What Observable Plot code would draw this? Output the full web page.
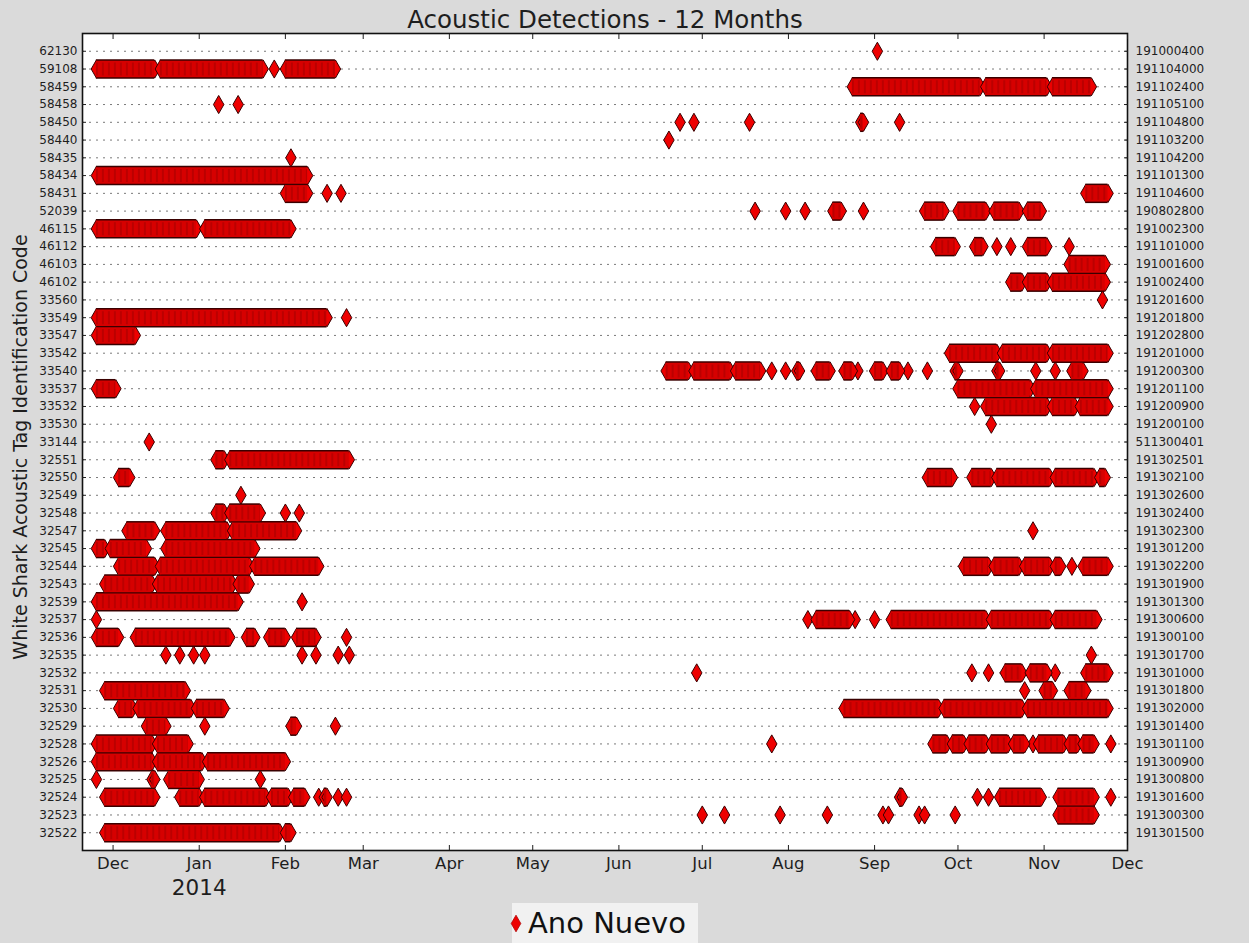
<!DOCTYPE html>
<html>
<head>
<meta charset="utf-8">
<script src="https://cdn.jsdelivr.net/npm/d3@7"></script>
<script src="https://cdn.jsdelivr.net/npm/@observablehq/plot@0.6"></script>
<style>
  html, body { margin: 0; padding: 0; background: #dadada; }
  #wrap { position: relative; width: 1249px; height: 943px; overflow: hidden; font-family: "DejaVu Sans", sans-serif; }
  #legend { position: absolute; left: 512px; top: 903px; }
</style>
</head>
<body>
<div id="wrap"></div>
<script>
// ---------- data ----------
const tagCodes = ["62130","59108","58459","58458","58450","58440","58435","58434","58431","52039","46115","46112","46103","46102","33560","33549","33547","33542","33540","33537","33532","33530","33144","32551","32550","32549","32548","32547","32545","32544","32543","32539","32537","32536","32535","32532","32531","32530","32529","32528","32526","32525","32524","32523","32522"];

const receiverCodes = ["191000400","191104000","191102400","191105100","191104800","191103200","191104200","191101300","191104600","190802800","191002300","191101000","191001600","191002400","191201600","191201800","191202800","191201000","191200300","191201100","191200900","191200100","511300401","191302501","191302100","191302600","191302400","191302300","191301200","191302200","191301900","191301300","191300600","191300100","191301700","191301000","191301800","191302000","191301400","191301100","191300900","191300800","191301600","191300300","191301500"];

const monthTicks = ["2013-12-01","2014-01-01","2014-02-01","2014-03-01","2014-04-01","2014-05-01","2014-06-01","2014-07-01","2014-08-01","2014-09-01","2014-10-01","2014-11-01","2014-12-01"];
const yearLabel = ["2014-01-01", "2014"];
const xDomain = ["2013-11-20", "2014-12-01"];

// detection runs: [tag, first day, last day]
const runs = [
  ["59108","2013-11-25","2013-12-16"],["59108","2013-12-18","2014-01-24"],["59108","2014-02-01","2014-02-19"],
  ["58459","2014-08-24","2014-10-09"],["58459","2014-10-11","2014-11-02"],["58459","2014-11-04","2014-11-18"],
  ["58450","2014-08-27","2014-08-28"],
  ["58434","2013-11-25","2014-02-09"],
  ["58431","2014-02-01","2014-02-09"],["58431","2014-11-16","2014-11-24"],
  ["52039","2014-08-17","2014-08-20"],["52039","2014-09-19","2014-09-26"],["52039","2014-10-01","2014-10-11"],["52039","2014-10-14","2014-10-23"],["52039","2014-10-26","2014-10-31"],
  ["46115","2013-11-25","2013-12-31"],["46115","2014-01-03","2014-02-03"],
  ["46112","2014-09-23","2014-09-30"],["46112","2014-10-07","2014-10-10"],["46112","2014-10-26","2014-11-02"],
  ["46103","2014-11-10","2014-11-23"],
  ["46102","2014-10-20","2014-10-24"],["46102","2014-10-26","2014-11-02"],["46102","2014-11-04","2014-11-23"],
  ["33549","2013-11-25","2014-02-16"],
  ["33547","2013-11-25","2013-12-09"],
  ["33542","2014-09-28","2014-10-15"],["33542","2014-10-17","2014-11-02"],["33542","2014-11-04","2014-11-24"],
  ["33540","2014-06-18","2014-06-26"],["33540","2014-06-28","2014-07-11"],["33540","2014-07-13","2014-07-22"],["33540","2014-08-04","2014-08-05"],["33540","2014-08-11","2014-08-16"],["33540","2014-08-21","2014-08-24"],["33540","2014-09-01","2014-09-04"],["33540","2014-09-07","2014-09-10"],["33540","2014-09-30","2014-10-01"],["33540","2014-10-15","2014-10-16"],["33540","2014-11-11","2014-11-15"],
  ["33537","2013-11-25","2013-12-02"],["33537","2014-10-01","2014-10-27"],["33537","2014-10-29","2014-11-24"],
  ["33532","2014-10-11","2014-11-02"],["33532","2014-11-04","2014-11-12"],["33532","2014-11-14","2014-11-24"],
  ["32551","2014-01-07","2014-01-10"],["32551","2014-01-12","2014-02-24"],
  ["32550","2013-12-03","2013-12-07"],["32550","2014-09-20","2014-09-29"],["32550","2014-10-06","2014-10-13"],["32550","2014-10-15","2014-11-03"],["32550","2014-11-05","2014-11-19"],["32550","2014-11-21","2014-11-23"],
  ["32548","2014-01-07","2014-01-10"],["32548","2014-01-12","2014-01-23"],
  ["32547","2013-12-06","2013-12-16"],["32547","2013-12-20","2014-01-11"],["32547","2014-01-13","2014-02-05"],
  ["32545","2013-11-25","2013-11-28"],["32545","2013-11-30","2013-12-13"],["32545","2013-12-20","2014-01-21"],
  ["32544","2013-12-03","2013-12-16"],["32544","2013-12-18","2014-01-19"],["32544","2014-01-21","2014-02-13"],["32544","2014-10-03","2014-10-12"],["32544","2014-10-14","2014-10-23"],["32544","2014-10-25","2014-11-03"],["32544","2014-11-05","2014-11-07"],["32544","2014-11-15","2014-11-24"],
  ["32543","2013-11-28","2013-12-15"],["32543","2013-12-17","2014-01-13"],["32543","2014-01-15","2014-01-19"],
  ["32539","2013-11-25","2014-01-15"],
  ["32537","2014-08-11","2014-08-23"],["32537","2014-09-07","2014-10-11"],["32537","2014-10-13","2014-11-03"],["32537","2014-11-05","2014-11-20"],
  ["32536","2013-11-25","2013-12-03"],["32536","2013-12-09","2014-01-12"],["32536","2014-01-18","2014-01-21"],["32536","2014-01-26","2014-02-01"],["32536","2014-02-05","2014-02-12"],
  ["32532","2014-10-18","2014-10-24"],["32532","2014-10-27","2014-11-02"],["32532","2014-11-16","2014-11-24"],
  ["32531","2013-11-28","2013-12-27"],["32531","2014-11-01","2014-11-04"],["32531","2014-11-10","2014-11-16"],
  ["32530","2013-12-03","2013-12-08"],["32530","2013-12-10","2013-12-29"],["32530","2013-12-31","2014-01-10"],["32530","2014-08-21","2014-09-24"],["32530","2014-09-26","2014-10-24"],["32530","2014-10-26","2014-11-24"],
  ["32529","2013-12-13","2013-12-20"],["32529","2014-02-03","2014-02-05"],
  ["32528","2013-11-25","2013-12-15"],["32528","2013-12-17","2013-12-28"],["32528","2014-09-22","2014-09-27"],["32528","2014-09-29","2014-10-03"],["32528","2014-10-05","2014-10-11"],["32528","2014-10-13","2014-10-19"],["32528","2014-10-21","2014-10-25"],["32528","2014-10-30","2014-11-08"],["32528","2014-11-10","2014-11-13"],["32528","2014-11-15","2014-11-19"],
  ["32526","2013-11-25","2013-12-15"],["32526","2013-12-17","2014-01-02"],["32526","2014-01-04","2014-02-01"],
  ["32525","2013-12-15","2013-12-16"],["32525","2013-12-21","2014-01-01"],
  ["32524","2013-11-28","2013-12-16"],["32524","2013-12-25","2014-01-01"],["32524","2014-01-03","2014-01-25"],["32524","2014-01-27","2014-02-02"],["32524","2014-02-04","2014-02-08"],["32524","2014-02-15","2014-02-16"],["32524","2014-09-10","2014-09-11"],["32524","2014-10-16","2014-10-31"],["32524","2014-11-06","2014-11-19"],
  ["32523","2014-11-06","2014-11-19"],
  ["32522","2013-11-28","2014-01-30"],["32522","2014-02-01","2014-02-03"]
];

// isolated detections: [tag, day]
const singles = [
  ["62130","2014-09-02"],
  ["59108","2014-01-28"],
  ["58458","2014-01-08"],["58458","2014-01-15"],
  ["58450","2014-06-23"],["58450","2014-06-28"],["58450","2014-07-18"],["58450","2014-09-10"],
  ["58440","2014-06-19"],
  ["58435","2014-02-03"],
  ["58431","2014-02-16"],["58431","2014-02-21"],
  ["52039","2014-07-20"],["52039","2014-07-31"],["52039","2014-08-07"],["52039","2014-08-28"],
  ["46112","2014-10-15"],["46112","2014-10-20"],["46112","2014-11-10"],
  ["33560","2014-11-22"],
  ["33549","2014-02-23"],
  ["33540","2014-07-26"],["33540","2014-07-31"],["33540","2014-08-26"],["33540","2014-09-13"],["33540","2014-09-20"],["33540","2014-10-29"],["33540","2014-11-05"],
  ["33532","2014-10-07"],
  ["33530","2014-10-13"],
  ["33144","2013-12-14"],
  ["32549","2014-01-16"],
  ["32548","2014-02-01"],["32548","2014-02-06"],
  ["32547","2014-10-28"],
  ["32544","2014-11-11"],
  ["32539","2014-02-07"],
  ["32537","2013-11-25"],["32537","2014-08-08"],["32537","2014-08-25"],["32537","2014-09-01"],
  ["32536","2014-02-23"],
  ["32535","2013-12-20"],["32535","2013-12-25"],["32535","2013-12-30"],["32535","2014-01-03"],["32535","2014-02-07"],["32535","2014-02-12"],["32535","2014-02-20"],["32535","2014-02-24"],["32535","2014-11-18"],
  ["32532","2014-06-29"],["32532","2014-10-06"],["32532","2014-10-12"],["32532","2014-11-05"],
  ["32531","2014-10-25"],
  ["32529","2014-01-03"],["32529","2014-02-19"],
  ["32528","2014-07-26"],["32528","2014-10-28"],["32528","2014-11-25"],
  ["32525","2013-11-25"],["32525","2014-01-23"],
  ["32524","2014-02-13"],["32524","2014-02-20"],["32524","2014-02-23"],["32524","2014-10-08"],["32524","2014-10-12"],["32524","2014-11-25"],
  ["32523","2014-07-01"],["32523","2014-07-09"],["32523","2014-07-29"],["32523","2014-08-15"],["32523","2014-09-04"],["32523","2014-09-06"],["32523","2014-09-17"],["32523","2014-09-19"],["32523","2014-09-30"]
];

const titleText = "Acoustic Detections - 12 Months";
const yTitle = "White Shark Acoustic Tag Identification Code";
const legendLabel = "Ano Nuevo";

// ---------- build ----------
const parse = d3.utcParse("%Y-%m-%d");
const runData = runs.map(([tag, s, e]) => ({tag, start: parse(s), end: parse(e)}));
const pointData = [
  ...singles.map(([tag, d]) => ({tag, date: parse(d)})),
  ...runData.flatMap(r => [{tag: r.tag, date: r.start}, {tag: r.tag, date: r.end}])
];
const ticks = monthTicks.map(parse);
const recv = new Map(tagCodes.map((t, i) => [t, receiverCodes[i]]));

const RED = "#ee0000", BAND = "#d60000", EDGE = "#3a0000", INK = "#1e1e1e";
const fmtMonth = d3.utcFormat("%b");

const chart = Plot.plot({
  width: 1249,
  height: 943,
  marginLeft: 82,
  marginRight: 122,
  marginTop: 33,
  marginBottom: 93,
  style: {background: "transparent", fontFamily: "DejaVu Sans, sans-serif", overflow: "visible", color: INK},
  x: {type: "utc", domain: xDomain.map(parse)},
  y: {type: "point", domain: tagCodes, padding: 1},
  marks: [
    Plot.frame({fill: "white"}),
    Plot.ruleY(tagCodes, {y: d => d, stroke: "#7a7a7a", strokeWidth: 1, strokeDasharray: "2,5"}),
    Plot.ruleY(runData, {y: "tag", x1: "start", x2: "end", stroke: EDGE, strokeWidth: 19.5}),
    Plot.dot(pointData, {x: "date", y: "tag", symbol: "diamond", r: 5.5, fill: RED, stroke: EDGE, strokeWidth: 1}),
    Plot.ruleY(runData, {y: "tag", x1: "start", x2: "end", stroke: BAND, strokeWidth: 16.5}),
    // mottled texture of overlapping markers
    Plot.ruleY(runData, {y: "tag", x1: "start", x2: "end", stroke: "#8a0000", strokeOpacity: 0.35, strokeWidth: 13, strokeDasharray: "2,4"}),
    Plot.frame({stroke: "#111", strokeWidth: 1.6}),
    Plot.axisX(ticks, {anchor: "bottom", tickSize: -5, tickPadding: 12, tickFormat: d => fmtMonth(d), fontSize: 16.5, label: null, fill: INK}),
    Plot.axisX(ticks, {anchor: "top", tickSize: -5, tickFormat: () => "", label: null}),
    Plot.axisY(tagCodes, {anchor: "left", tickSize: -4, tickPadding: 9, fontSize: 12, label: null, fill: INK}),
    Plot.axisY(tagCodes, {anchor: "right", tickSize: -4, tickPadding: 12, fontSize: 12, label: null, fill: INK, tickFormat: t => recv.get(t)}),
    Plot.text([yearLabel], {x: d => parse(d[0]), text: d => d[1], frameAnchor: "bottom", lineAnchor: "middle", dy: 38, fontSize: 21.5, fill: INK}),
    Plot.text([titleText], {text: d => d, frameAnchor: "top", lineAnchor: "middle", textAnchor: "middle", dy: -13, fontSize: 24.5, fill: INK}),
    Plot.text([yTitle], {text: d => d, frameAnchor: "left", lineAnchor: "middle", textAnchor: "middle", dx: -62, dy: 5, rotate: -90, fontSize: 19, fill: INK})
  ]
});
document.getElementById("wrap").appendChild(chart);

// legend
const legend = d3.select("#wrap").append("svg")
  .attr("id", "legend").attr("width", 186).attr("height", 40)
  .style("overflow", "visible");
legend.append("rect").attr("width", 186).attr("height", 40).attr("fill", "#f1f1f1");
legend.append("path")
  .attr("transform", "translate(4,20.5)")
  .attr("d", d3.symbol(d3.symbolDiamond, 80)())
  .attr("fill", RED).attr("stroke", "#b00000").attr("stroke-width", 0.8);
legend.append("text").attr("x", 16).attr("y", 30)
  .attr("font-family", "DejaVu Sans, sans-serif").attr("font-size", 29).attr("fill", "#111")
  .text(legendLabel);
</script>
</body>
</html>
